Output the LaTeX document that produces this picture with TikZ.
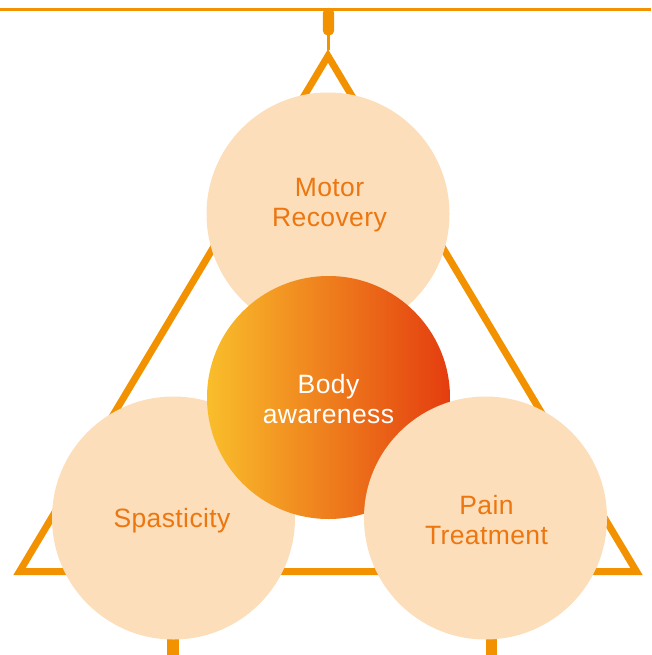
\documentclass[tikz,border=0pt]{standalone}
\usepackage{fontspec}
\newfontfamily\lblfont{Liberation Sans}[LetterSpace=1.5]
\definecolor{frameO}{HTML}{F39200}
\definecolor{peach}{HTML}{FCDEBA}
\definecolor{txtO}{HTML}{EC7610}
\definecolor{gradL}{HTML}{F9BE2B}
\definecolor{gradM}{HTML}{EF8A19}
\definecolor{gradR}{HTML}{E43D0F}
\tikzset{
  topic/.style={circle, fill=peach, minimum size=243pt, inner sep=0pt},
  core/.style={circle, minimum size=243pt, inner sep=0pt,
    left color=gradL, middle color=gradM, right color=gradR},
  lbl/.style={align=center, inner sep=0pt,
    font=\lblfont\fontsize{26.5}{30}\selectfont},
  frame/.style={draw=frameO, line width=7pt, line join=miter},
}
\begin{document}
\begin{tikzpicture}[x=1pt,y=-1pt]
  \useasboundingbox (0,0) rectangle (651,655);
  % hanging bar and suspension
  \draw[frameO, line width=3pt] (0,9.7) -- (651,9.7);
  \fill[frameO, rounded corners=5pt] (322.8,8) -- (322.8,35.5) -- (334.2,35.5) -- (334.2,8) -- cycle;
  \coordinate (hook) at (328.5,35);
  % triangle frame
  \coordinate (apex) at (328,56);
  \coordinate (bl) at (19.5,571.5);
  \coordinate (br) at (636.5,571.5);
  \draw[frameO, line width=2.2pt] (hook) -- (328.5,50);
  \draw[frame] (apex) -- (bl) -- (br) -- cycle;
  % feet below the lower circles
  \fill[frameO] (167.3,600) rectangle (179,655);
  \fill[frameO] (486,600) rectangle (497.3,655);
  % circles
  \node[topic] (motor) at (328,214) {};
  \node[topic] (spast) at (173.5,518) {};
  \node[core] (body) at (328.5,397.5) {};
  \node[topic] (pain) at (485.5,518) {};
  % labels
  \node[lbl, text=txtO] (motorT) at (329.5,205) {Motor\\Recovery};
  \node[lbl, text=txtO] (spastT) at (172,521) {Spasticity};
  \node[lbl, text=white] (bodyT) at (328.5,399) {Body\\awareness};
  \node[lbl, text=txtO] (painT) at (486.5,520) {Pain\\Treatment};
\end{tikzpicture}
\end{document}
